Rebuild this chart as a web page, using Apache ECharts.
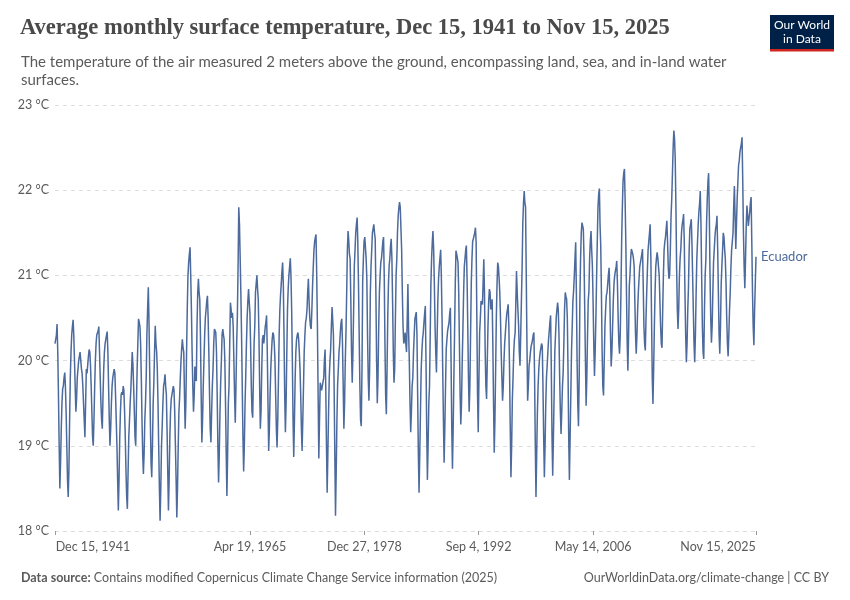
<!DOCTYPE html>
<html>
<head>
<meta charset="utf-8">
<script src="https://cdn.jsdelivr.net/npm/echarts@6/dist/echarts.min.js"></script>
<style>
html,body{margin:0;padding:0;background:#fff;}
#chart{width:850px;height:600px;}
</style>
</head>
<body>
<div id="chart"></div>
<script>
// First data point: Dec 15, 1941 (year, monthIndex)
const firstYear = 1941;
const firstMonthIndex = 11;
const seriesName = 'Ecuador';
// Monthly average surface temperature (°C), Dec 1941 .. Nov 2025
const ecuadorTemps = [
  20.20,
  20.20,20.30,20.43,20.10,19.60,19.00,18.50,18.80,19.20,19.50,19.67,19.70, // 1942
  19.80,19.86,19.70,19.40,19.00,18.60,18.40,18.70,19.30,19.80,20.10,20.30, // 1943
  20.40,20.48,20.30,20.00,19.70,19.40,19.55,19.80,19.90,20.00,20.05,20.10, // 1944
  20.10,19.90,19.85,19.70,19.50,19.30,19.10,19.50,19.90,19.85,19.95,20.05, // 1945
  20.13,20.10,19.95,19.70,19.40,19.10,19.00,19.30,19.70,20.00,20.20,20.30, // 1946
  20.30,20.35,20.40,20.10,19.80,19.50,19.30,19.20,19.60,19.90,20.10,20.20, // 1947
  20.25,20.30,20.34,20.10,19.70,19.30,19.00,19.20,19.50,19.70,19.80,19.85, // 1948
  19.90,19.85,19.60,19.30,19.00,18.60,18.24,18.60,19.10,19.40,19.60,19.63, // 1949
  19.60,19.70,19.65,19.40,19.10,18.70,18.40,18.26,18.70,19.10,19.30,19.50, // 1950
  19.67,19.90,20.10,19.95,19.70,19.40,19.10,19.00,19.50,19.90,20.20,20.49, // 1951
  20.45,20.40,20.20,19.80,19.30,18.90,18.67,18.90,19.30,19.50,19.80,20.30, // 1952
  20.60,20.86,20.50,19.90,19.30,18.80,18.63,19.00,19.50,19.74,20.10,20.41, // 1953
  20.20,20.10,19.90,19.50,19.00,18.50,18.12,18.50,19.00,19.23,19.50,19.70, // 1954
  19.75,19.84,19.70,19.60,19.20,18.70,18.24,18.60,19.10,19.40,19.55,19.60, // 1955
  19.65,19.70,19.65,19.40,19.00,18.60,18.16,18.50,19.00,19.40,19.57,19.80, // 1956
  20.00,20.15,20.25,20.15,20.10,19.60,19.20,19.50,20.10,20.60,21.00,21.15, // 1957
  21.25,21.33,21.00,20.60,20.10,19.70,19.40,19.60,19.93,19.80,19.76,20.40, // 1958
  20.80,20.96,20.80,20.72,20.30,19.60,19.04,19.30,19.70,20.00,20.30,20.50, // 1959
  20.60,20.70,20.76,20.50,20.10,19.60,19.20,19.04,19.40,19.70,19.90,20.20, // 1960
  20.37,20.35,20.33,20.10,19.60,19.00,18.57,18.90,19.40,19.74,20.00,20.30, // 1961
  20.37,20.30,20.25,20.00,19.50,18.90,18.41,18.90,19.50,19.70,20.20,20.68, // 1962
  20.60,20.50,20.56,20.40,20.00,19.60,19.27,19.70,20.20,20.53,21.10,21.80, // 1963
  21.60,21.20,20.80,20.30,19.70,19.10,18.70,19.00,19.50,19.82,20.20,20.50, // 1964
  20.70,20.84,20.70,20.56,20.20,19.70,19.40,19.33,19.80,20.20,20.41,20.80, // 1965
  20.90,21.00,20.85,20.72,20.30,19.70,19.20,19.40,19.90,20.25,20.30,20.20, // 1966
  20.30,20.40,20.45,20.53,20.10,19.50,18.94,19.20,19.60,19.90,20.10,20.25, // 1967
  20.33,20.30,20.20,20.00,19.60,19.20,18.98,19.30,19.80,20.30,20.60,20.77, // 1968
  20.90,21.05,21.15,20.90,20.30,19.60,19.16,19.50,20.10,20.60,20.85,21.00, // 1969
  21.10,21.20,21.00,20.60,20.00,19.30,18.87,19.30,19.80,20.10,20.25,20.30, // 1970
  20.33,20.25,20.10,19.90,19.60,19.20,18.94,19.30,19.70,20.10,20.30,20.45, // 1971
  20.50,20.60,20.80,20.96,20.70,20.50,20.40,20.37,20.60,20.88,21.10,21.30, // 1972
  21.40,21.45,21.48,21.00,20.40,19.60,18.85,19.30,19.74,19.70,19.65,19.63, // 1973
  19.63,19.80,20.00,20.13,19.70,19.00,18.45,18.90,19.40,19.80,20.00,20.13, // 1974
  20.40,20.63,20.64,20.30,19.70,18.90,18.18,18.70,19.30,19.72,19.90,20.10, // 1975
  20.20,20.35,20.45,20.49,20.20,19.70,19.20,19.50,20.00,20.33,20.80,21.30, // 1976
  21.52,21.40,21.25,21.19,20.70,20.10,19.74,20.10,20.60,21.11,21.30,21.50, // 1977
  21.60,21.68,21.40,20.90,20.30,19.70,19.30,19.23,19.90,20.92,21.20,21.40, // 1978
  21.45,21.46,21.20,20.96,20.30,19.80,19.53,19.90,20.80,21.10,21.30,21.50, // 1979
  21.55,21.60,21.50,21.43,20.80,20.00,19.50,19.80,20.40,20.80,21.00,21.15, // 1980
  21.20,21.30,21.40,21.45,21.00,20.20,19.60,19.37,19.90,20.50,20.90,21.11, // 1981
  21.20,21.35,21.43,21.20,20.70,20.10,19.74,19.90,20.50,21.00,21.19,21.50, // 1982
  21.70,21.80,21.86,21.80,21.78,21.30,20.80,20.40,20.20,20.25,20.33,20.20, // 1983
  20.10,20.50,20.90,20.33,20.00,19.50,19.16,19.40,19.70,19.80,20.10,20.30, // 1984
  20.49,20.50,20.57,20.30,19.60,18.90,18.45,18.90,19.40,19.88,20.10,20.25, // 1985
  20.33,20.45,20.55,20.64,20.00,19.20,18.60,19.00,19.50,19.70,20.30,20.90, // 1986
  21.20,21.40,21.52,21.30,20.90,20.40,20.10,19.86,20.30,20.70,20.96,21.10, // 1987
  21.20,21.30,21.00,20.50,19.90,19.30,18.80,19.20,19.70,20.13,20.25,20.35, // 1988
  20.40,20.45,20.55,20.62,20.00,19.20,18.73,19.20,19.80,20.33,20.90,21.29, // 1989
  21.25,21.20,21.15,20.80,20.20,19.60,19.25,19.50,20.00,20.37,20.80,21.10, // 1990
  21.20,21.30,21.35,20.96,20.40,19.80,19.40,19.70,20.30,20.90,21.20,21.40, // 1991
  21.43,21.45,21.50,21.56,21.39,20.50,19.60,19.16,19.80,20.33,20.50,20.70, // 1992
  20.72,20.66,20.90,21.19,20.80,20.10,19.70,19.55,20.00,20.40,20.70,20.84, // 1993
  20.80,20.60,20.65,20.72,20.20,19.50,18.92,19.30,19.90,20.50,20.90,21.15, // 1994
  21.10,20.96,20.80,20.50,20.10,19.80,19.53,19.70,20.00,20.20,20.33,20.45, // 1995
  20.55,20.60,20.66,20.40,19.90,19.20,18.63,19.00,19.55,19.80,20.10,20.25, // 1996
  20.33,20.70,21.05,20.80,20.60,20.41,20.10,19.94,20.30,20.70,21.09,21.60, // 1997
  21.85,21.99,21.85,21.80,21.00,20.20,19.53,19.70,19.94,20.00,20.10,20.17, // 1998
  20.20,20.25,20.30,20.33,19.80,19.00,18.40,18.90,19.40,19.70,19.90,20.02, // 1999
  20.10,20.15,20.20,20.17,19.70,19.10,18.63,19.00,19.50,19.80,19.94,20.10, // 2000
  20.25,20.35,20.45,20.53,19.90,19.10,18.65,19.10,19.60,20.10,20.30,20.50, // 2001
  20.60,20.68,20.60,20.30,19.80,19.40,19.14,19.40,19.70,19.86,20.20,20.60, // 2002
  20.80,20.75,20.72,20.50,19.90,19.10,18.60,19.10,19.60,20.10,20.40,20.70, // 2003
  20.82,21.00,21.20,21.39,20.80,20.00,19.50,19.23,19.80,20.72,21.20,21.50, // 2004
  21.62,21.58,21.54,21.20,20.60,20.00,19.47,19.80,20.30,20.70,20.82,21.20, // 2005
  21.40,21.52,21.30,21.11,20.70,20.20,19.82,20.10,20.50,20.96,21.40,21.80, // 2006
  21.95,22.02,21.60,21.35,20.80,20.10,19.70,19.59,20.00,20.40,20.60,20.76, // 2007
  20.80,20.90,21.00,21.09,20.80,20.30,19.93,20.10,20.40,20.70,20.90,21.00, // 2008
  21.05,21.10,21.17,20.90,20.50,20.20,20.08,20.30,20.80,21.39,21.80,22.10, // 2009
  22.20,22.25,21.90,21.40,20.80,20.20,19.88,20.30,20.88,21.00,21.20,21.31, // 2010
  21.31,21.25,21.20,21.11,20.70,20.30,20.08,20.30,20.60,20.80,20.96,21.10, // 2011
  21.15,21.20,21.25,21.31,20.90,20.40,20.20,20.12,20.50,20.80,21.07,21.30, // 2012
  21.40,21.50,21.60,21.20,20.50,19.80,19.49,19.90,20.40,20.80,21.10,21.20, // 2013
  21.27,21.20,21.10,21.00,20.70,20.40,20.20,20.15,20.60,21.00,21.30,21.39, // 2014
  21.45,21.55,21.64,21.40,21.10,20.96,21.00,21.30,21.70,21.90,22.20,22.50, // 2015
  22.70,22.60,22.37,21.80,21.10,20.60,20.37,20.60,21.00,21.20,21.31,21.50, // 2016
  21.60,21.65,21.72,21.40,20.80,20.30,19.98,20.20,20.60,20.86,21.30,21.55, // 2017
  21.60,21.66,21.40,21.00,20.60,20.20,19.98,20.30,20.80,21.19,21.40,21.60, // 2018
  21.75,21.85,21.99,21.60,21.00,20.40,20.10,20.02,20.60,21.00,21.19,21.60, // 2019
  21.90,22.10,22.20,21.70,21.00,20.50,20.21,20.40,20.80,21.15,21.30,21.45, // 2020
  21.55,21.60,21.70,21.30,20.80,20.30,20.08,20.40,20.90,21.11,21.30,21.50, // 2021
  21.45,21.30,21.19,20.90,20.50,20.20,20.05,20.30,20.60,20.80,21.10,21.30, // 2022
  21.40,21.50,21.80,22.05,21.70,21.31,21.60,21.90,22.10,22.29,22.35,22.45, // 2023
  22.50,22.55,22.62,22.10,21.50,21.10,20.85,21.20,21.60,21.82,21.70,21.58, // 2024
  21.60,21.75,21.85,21.92,21.40,20.80,20.40,20.18,20.60,20.90,21.22        // 2025
];
// Axis tick dates and labels
const tickDates = ['1941-12-15','1965-04-19','1978-12-27','1992-09-04','2006-05-14','2025-11-15'];
const tickLabels = ['Dec 15, 1941','Apr 19, 1965','Dec 27, 1978','Sep 4, 1992','May 14, 2006','Nov 15, 2025'];

const toTs = s => { const p = s.split('-').map(Number); return Date.UTC(p[0], p[1]-1, p[2]); };
const tickTs = tickDates.map(toTs);
const data = ecuadorTemps.map((v, i) => [Date.UTC(firstYear, firstMonthIndex + i, 15), v]);

const chart = echarts.init(document.getElementById('chart'), null, {renderer:'canvas'});
const lastIdx = tickTs.length - 1;
const txt = {fontFamily: 'Lato', fontSize: 12.5, color: '#5b5b5b', fontWeight: 'normal'};

chart.setOption({
  animation: false,
  backgroundColor: '#ffffff',
  title: [
    {text: 'Average monthly surface temperature, Dec 15, 1941 to Nov 15, 2025', left: 15, top: 12,
     textStyle: {fontFamily: 'Liberation Serif', fontSize: 22.5, fontWeight: 'bold', color: '#4a4a4a'}},
    {text: 'The temperature of the air measured 2 meters above the ground, encompassing land, sea, and in-land water\nsurfaces.',
     left: 16, top: 48,
     textStyle: {fontFamily: 'Lato', fontSize: 15, fontWeight: 'normal', color: '#5b5b5b', lineHeight: 18}},
    {text: '{b|Data source:} {n|Contains modified Copernicus Climate Change Service information (2025)}', left: 16, top: 566,
     textStyle: Object.assign({}, txt, {
       rich: {b: Object.assign({}, txt, {fontWeight: 'bold'}), n: txt}})},
    {text: 'OurWorldinData.org/climate-change | CC BY', right: 16, top: 566,
     textStyle: txt}
  ],
  graphic: [
    {type: 'rect', shape: {x: 770, y: 15, width: 64, height: 36}, style: {fill: '#002147'}},
    {type: 'rect', shape: {x: 770, y: 49, width: 64, height: 2.5}, style: {fill: '#ce261e'}},
    {type: 'text', x: 802, y: 18, style: {text: 'Our World\nin Data', fill: '#ffffff', font: '12px Lato', align: 'center', lineHeight: 14}}
  ],
  grid: {left: 55, right: 94, top: 105, bottom: 69, containLabel: false},
  xAxis: {
    type: 'value',
    min: tickTs[0], max: tickTs[lastIdx],
    axisLine: {show: false},
    splitLine: {show: false},
    axisTick: {show: true, customValues: tickTs, length: 4, lineStyle: {color: '#999'}},
    axisLabel: {
      customValues: tickTs,
      formatter: v => {
        const i = tickTs.indexOf(v);
        if (i === 0) return '{l|' + tickLabels[i] + '}';
        if (i === lastIdx) return '{r|' + tickLabels[i] + '}';
        return i >= 0 ? tickLabels[i] : '';
      },
      rich: {
        l: Object.assign({}, txt, {padding: [0, 0, 0, 76]}),
        r: Object.assign({}, txt, {padding: [0, 76, 0, 0]})
      },
      fontFamily: 'Lato', fontSize: 12.5, color: '#5b5b5b', margin: 9,
      showMinLabel: true, showMaxLabel: true, hideOverlap: false
    }
  },
  yAxis: {
    type: 'value', min: 18, max: 23, interval: 1,
    axisLine: {show: false}, axisTick: {show: false},
    axisLabel: {formatter: '{value} °C', fontFamily: 'Lato', fontSize: 12.5, color: '#5b5b5b', margin: 6},
    splitLine: {show: true, lineStyle: {color: '#dddddd', type: [4, 4], width: 1}}
  },
  series: [{
    name: seriesName,
    type: 'line',
    data: data,
    showSymbol: false,
    symbol: 'none',
    lineStyle: {color: '#4c6a9c', width: 1.5},
    itemStyle: {color: '#4c6a9c'},
    endLabel: {show: true, formatter: seriesName, color: '#4c6a9c', fontFamily: 'Lato', fontSize: 13, distance: 5}
  }]
});
</script>
</body>
</html>
